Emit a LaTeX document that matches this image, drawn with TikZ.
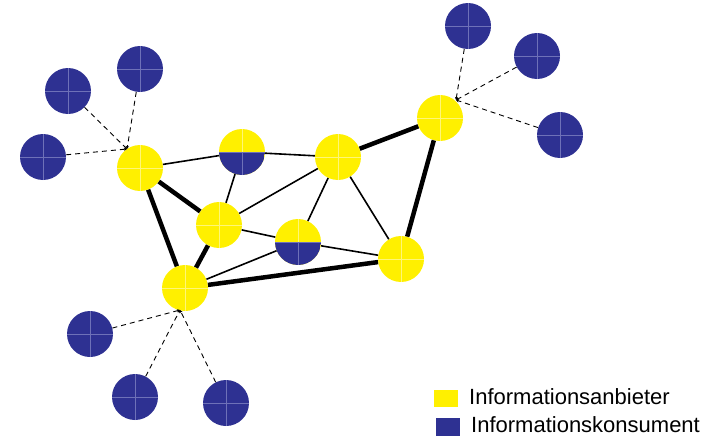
\documentclass[tikz,border=0pt]{standalone}
\usepackage{fontspec}
\setmainfont{Liberation Sans}
\usetikzlibrary{arrows.meta}
\definecolor{gelb}{RGB}{255,240,0}
\definecolor{blau}{RGB}{46,49,146}
\definecolor{gelbhell}{RGB}{255,246,120}
\definecolor{blauhell}{RGB}{110,113,184}
\begin{document}
\begin{tikzpicture}[x=1pt,y=-1pt,
   kreuz/.style={line width=0.6pt},
   anbieter/.style={circle,minimum size=46pt,inner sep=0pt,fill=gelb,
     path picture={\draw[kreuz,gelbhell]
       (path picture bounding box.north) -- (path picture bounding box.south)
       (path picture bounding box.west) -- (path picture bounding box.east);}},
   konsument/.style={circle,minimum size=46pt,inner sep=0pt,fill=blau,
     path picture={\draw[kreuz,blauhell]
       (path picture bounding box.north) -- (path picture bounding box.south)
       (path picture bounding box.west) -- (path picture bounding box.east);}},
   beides/.style={circle,minimum size=46pt,inner sep=0pt,fill=gelb,
     path picture={\fill[blau] (path picture bounding box.west) rectangle (path picture bounding box.south east);
       \draw[kreuz,gelbhell] (path picture bounding box.north) -- (path picture bounding box.center);
       \draw[kreuz,blauhell] (path picture bounding box.center) -- (path picture bounding box.south)
       (path picture bounding box.west) -- (path picture bounding box.east);}},
   duenn/.style={line width=1.6pt},
   dick/.style={line width=4.5pt},
   anfrage/.style={-{Stealth[length=3pt,width=3pt]},line width=0.9pt,dash pattern=on 5pt off 4pt}]
   \useasboundingbox (0,0) rectangle (724,439);
   % Netz
   \node[anbieter] (y1) at (140,168) {};
   \node[beides]   (h1) at (242,152) {};
   \node[anbieter] (y2) at (338,157) {};
   \node[anbieter] (y3) at (219,225) {};
   \node[beides]   (h2) at (298,242) {};
   \node[anbieter] (y4) at (185,288) {};
   \node[anbieter] (y5) at (401,259) {};
   \node[anbieter] (y6) at (440,118) {};
   \draw[duenn] (y1) -- (h1);
   \draw[duenn] (h1) -- (y2);
   \draw[duenn] (h1) -- (y3);
   \draw[duenn] (y3) -- (y2);
   \draw[duenn] (y3) -- (h2);
   \draw[duenn] (y2) -- (h2);
   \draw[duenn] (y2) -- (y5);
   \draw[duenn] (h2) -- (y5);
   \draw[duenn] (h2) -- (y4);
   \draw[dick] (y1) -- (y3);
   \draw[dick] (y1) -- (y4);
   \draw[dick] (y3) -- (y4);
   \draw[dick] (y4) -- (y5);
   \draw[dick] (y5) -- (y6);
   \draw[dick] (y2) -- (y6);
   % Konsumenten
   \node[konsument] (b1) at (68,91)   {};
   \node[konsument] (b2) at (140,69)  {};
   \node[konsument] (b3) at (43,157)  {};
   \node[konsument] (b4) at (468,26)  {};
   \node[konsument] (b5) at (537,56)  {};
   \node[konsument] (b6) at (560,135) {};
   \node[konsument] (b7) at (90,334)  {};
   \node[konsument] (b8) at (135,397) {};
   \node[konsument] (b9) at (226,403) {};
   \coordinate (c1) at (127,149);
   \coordinate (c6) at (456,100);
   \coordinate (c4) at (180,310);
   \draw[anfrage] (b1) -- (c1);
   \draw[anfrage] (b2) -- (c1);
   \draw[anfrage] (b3) -- (c1);
   \draw[anfrage] (b4) -- (c6);
   \draw[anfrage] (b5) -- (c6);
   \draw[anfrage] (b6) -- (c6);
   \draw[anfrage] (b7) -- (c4);
   \draw[anfrage] (b8) -- (c4);
   \draw[anfrage] (b9) -- (c4);
   % Legende
   \node[fill=gelb,minimum width=24pt,minimum height=17pt,inner sep=0pt] (lg) at (446,398.5) {};
   \node[fill=blau,minimum width=24pt,minimum height=18pt,inner sep=0pt] (lb) at (448,427) {};
   \node[anchor=base west,inner sep=0pt,font=\fontsize{22}{24}\selectfont] (tg) at (469,404) {Informationsanbieter};
   \node[anchor=base west,inner sep=0pt,font=\fontsize{22}{24}\selectfont] (tb) at (471,432) {Informationskonsument};
\end{tikzpicture}
\end{document}
